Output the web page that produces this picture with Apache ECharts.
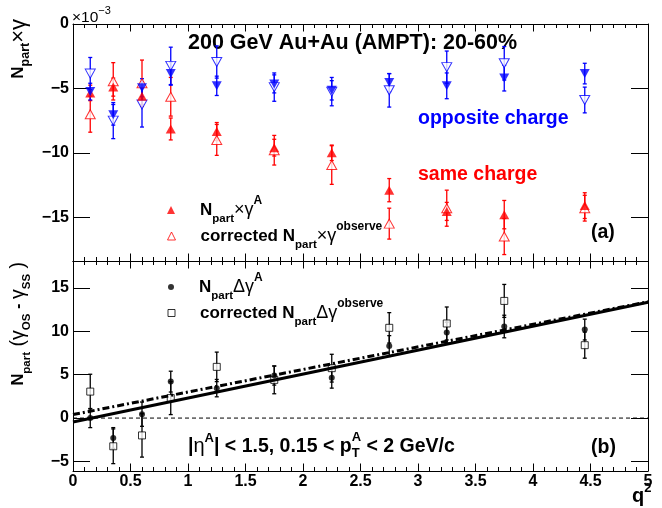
<!DOCTYPE html>
<html>
<head>
<meta charset="utf-8">
<script src="https://cdn.jsdelivr.net/npm/echarts@6/dist/echarts.min.js"></script>
<style>
html, body { margin: 0; padding: 0; background: #fff; }
#chart { width: 662px; height: 508px; }
</style>
</head>
<body>
<div id="chart"></div>
<script>
// q^2 bins, shared by both panels
var q2 = [0.15, 0.35, 0.6, 0.85, 1.25, 1.75, 2.25, 2.75, 3.25, 3.75, 4.45];

// panel (a): Npart x gamma, in units of 1e-3
var ssA      = [-5.35, -4.9, -5.6, -8.15, -8.35, -9.6, -10.0, -12.9, -14.55, -14.8, -14.1];
var ssAErr   = [0.6, 0.7, 0.65, 0.85, 0.7, 0.65, 0.6, 0.9, 0.7, 1.1, 1.0];
var ssObs    = [-7.0, -4.45, -4.6, -5.65, -9.0, -9.8, -10.95, -15.5, -14.3, -16.5, -14.3];
var ssObsErr = [1.4, 1.45, 1.8, 1.5, 1.2, 1.15, 1.5, 1.2, 1.4, 1.4, 1.0];
var osA      = [-5.25, -7.05, -4.95, -3.85, -4.8, -4.65, -5.15, -4.55, -4.8, -4.2, -3.85];
var osAErr   = [0.65, 0.8, 0.7, 0.9, 0.75, 0.7, 0.75, 0.7, 1.0, 1.0, 0.8];
var osObs    = [-3.85, -7.5, -6.25, -3.25, -2.95, -4.9, -5.25, -5.15, -3.35, -3.05, -5.9];
var osObsErr = [1.25, 1.4, 1.75, 1.45, 1.25, 1.1, 1.1, 1.3, 1.25, 1.3, 1.0];

// panel (b): Npart (gamma_OS - gamma_SS)
var dA      = [0.0, -2.3, 0.45, 4.2, 3.45, 4.9, 4.65, 8.3, 9.85, 10.55, 10.2];
var dAErr   = [1.1, 1.2, 1.4, 1.2, 1.0, 1.1, 1.2, 1.2, 1.2, 1.3, 1.2];
var dObs    = [3.05, -3.25, -2.0, 2.3, 5.9, 4.4, 5.75, 10.4, 10.9, 13.5, 8.4];
var dObsErr = [2.0, 2.0, 2.5, 1.9, 1.7, 1.6, 1.6, 1.75, 1.9, 1.9, 1.5];

// linear fits and the zero line
var fitX   = [0, 5];
var fitA   = [-0.45, 13.35];
var fitObs = [0.4, 13.4];
var zeroY  = [0, 0];

var yTicksA = [-15, -10, -5, 0];
var yTicksB = [-5, 0, 5, 10, 15];

var F = 'Liberation Sans';
var RED = '#ff0000', BLUE = '#0000ff';

function tok(size, bold, lh, va) {
  var t = { fontFamily: F, fontSize: size, fontWeight: bold ? 'bold' : 'normal', color: '#000', fill: '#000', lineHeight: lh };
  if (va) t.verticalAlign = va;
  return t;
}
function pairs(xs, ys) { return xs.map(function (x, i) { return [x, ys[i]]; }); }
function bars(vals, errs) { return q2.map(function (x, i) { return [x, vals[i] - errs[i], vals[i] + errs[i]]; }); }
function minus(v) { return v < 0 ? '\u2212' + (-v) : '' + v; }

function errRender(color) {
  return function (params, api) {
    var lo = api.coord([api.value(0), api.value(1)]);
    var hi = api.coord([api.value(0), api.value(2)]);
    var st = { stroke: color, lineWidth: 1.3 };
    return { type: 'group', children: [
      { type: 'line', shape: { x1: lo[0], y1: lo[1], x2: hi[0], y2: hi[1] }, style: st },
      { type: 'line', shape: { x1: lo[0] - 2, y1: lo[1], x2: lo[0] + 2, y2: lo[1] }, style: st },
      { type: 'line', shape: { x1: hi[0] - 2, y1: hi[1], x2: hi[0] + 2, y2: hi[1] }, style: st }
    ]};
  };
}
function errSeries(ax, vals, errs, color) {
  return { type: 'custom', xAxisIndex: ax, yAxisIndex: ax, data: bars(vals, errs),
    renderItem: errRender(color), z: 2, silent: true };
}

function xAx(grid, pos, labels) {
  return {
    type: 'value', gridIndex: grid, position: pos, min: 0, max: 5, interval: 0.5,
    axisLine: { show: true, onZero: false, lineStyle: { color: '#000', width: 1 } },
    axisTick: { show: true, inside: true, length: 7.5, lineStyle: { color: '#000' } },
    minorTick: { show: true, splitNumber: 5, length: 4, lineStyle: { color: '#000' } },
    splitLine: { show: false },
    axisLabel: { show: labels, margin: 3, fontFamily: F, fontSize: 16, fontWeight: 'bold', color: '#000' }
  };
}
function yAx(grid, pos, min, max, ticks, labels) {
  return {
    type: 'value', gridIndex: grid, position: pos, min: min, max: max,
    axisLine: { show: true, onZero: false, lineStyle: { color: '#000', width: 1 } },
    axisTick: { show: true, inside: true, length: 17, customValues: ticks, lineStyle: { color: '#000' } },
    splitLine: { show: false },
    axisLabel: { show: labels, customValues: ticks, margin: 4, formatter: minus,
      fontFamily: F, fontSize: 16, fontWeight: 'bold', color: '#000' }
  };
}

var legRich = {
  g: { width: 20 },
  b: tok(17, true, 30),
  s: tok(18, false, 30),
  sub: tok(11.5, true, 16, 'bottom'),
  sup: tok(12, true, 19, 'top')
};
var legText = {
  ssA: '{g|}{b|N}{sub|part}{s|\u00d7\u03b3}{sup|A}',
  ssObs: '{g|}{b|corrected N}{sub|part}{s|\u00d7\u03b3}{sup|observe}',
  dA: '{g|}{b|N}{sub|part}{s|\u0394\u03b3}{sup|A}',
  dObs: '{g|}{b|corrected N}{sub|part}{s|\u0394\u03b3}{sup|observe}'
};
function leg(name, icon, cx, cy, size, style) {
  return {
    data: [{ name: name, icon: icon }], left: cx - size / 2, top: cy - 15, padding: 0,
    itemWidth: size, itemHeight: size, selectedMode: false, itemStyle: style,
    formatter: function (n) { return legText[n]; },
    textStyle: { rich: legRich }
  };
}

// measure text for the stacked p_T^A label
var ctx = document.createElement('canvas').getContext('2d');
function tw(text, font) { ctx.font = font; return ctx.measureText(text).width; }
var annX = 188;
var w1 = tw('|', 'bold 19.5px "' + F + '"') + tw('\u03b7', '20px "' + F + '"') +
         tw('A', 'bold 13px "' + F + '"') + tw('| < 1.5, 0.15 < p', 'bold 19.5px "' + F + '"');
var wTA = Math.max(tw('T', 'bold 13px "' + F + '"'), tw('A', 'bold 13px "' + F + '"'));

var chart = echarts.init(document.getElementById('chart'), null, { renderer: 'canvas' });
var option = {
  animation: false,
  backgroundColor: '#fff',
  grid: [
    { left: 73, top: 24, right: 14, height: 237, outerBoundsMode: 'none' },
    { left: 73, top: 261, right: 14, height: 210, outerBoundsMode: 'none' }
  ],
  xAxis: [xAx(0, 'bottom', false), xAx(0, 'top', false), xAx(1, 'bottom', true), xAx(1, 'top', false)],
  yAxis: [
    yAx(0, 'left', -18.4, 0, yTicksA, true), yAx(0, 'right', -18.4, 0, yTicksA, false),
    yAx(1, 'left', -6.1, 18.1, yTicksB, true), yAx(1, 'right', -6.1, 18.1, yTicksB, false)
  ],
  legend: [
    leg('ssA', 'triangle', 171, 210, 8, { color: RED, borderWidth: 0 }),
    leg('ssObs', 'triangle', 171, 236, 8, { color: '#fff', borderColor: RED, borderWidth: 1 }),
    leg('dA', 'circle', 171, 287, 6, { color: '#000', borderWidth: 0 }),
    leg('dObs', 'rect', 171, 313, 7, { color: '#fff', borderColor: '#000', borderWidth: 1 })
  ],
  series: [
    errSeries(0, ssObs, ssObsErr, RED),
    errSeries(0, ssA, ssAErr, RED),
    errSeries(0, osObs, osObsErr, BLUE),
    errSeries(0, osA, osAErr, BLUE),
    { name: 'ssObs', type: 'scatter', xAxisIndex: 0, yAxisIndex: 0, data: pairs(q2, ssObs),
      symbol: 'triangle', symbolSize: [10, 9], itemStyle: { color: '#fff', borderColor: RED, borderWidth: 1 }, z: 3 },
    { name: 'osObs', type: 'scatter', xAxisIndex: 0, yAxisIndex: 0, data: pairs(q2, osObs),
      symbol: 'triangle', symbolRotate: 180, symbolSize: [10, 9], itemStyle: { color: '#fff', borderColor: BLUE, borderWidth: 1 }, z: 3 },
    { name: 'ssA', type: 'scatter', xAxisIndex: 0, yAxisIndex: 0, data: pairs(q2, ssA),
      symbol: 'triangle', symbolSize: [10, 9], itemStyle: { color: RED }, z: 4 },
    { name: 'osA', type: 'scatter', xAxisIndex: 0, yAxisIndex: 0, data: pairs(q2, osA),
      symbol: 'triangle', symbolRotate: 180, symbolSize: [10, 9], itemStyle: { color: BLUE }, z: 4 },

    { name: 'zero', type: 'line', xAxisIndex: 2, yAxisIndex: 2, data: pairs(fitX, zeroY), showSymbol: false,
      lineStyle: { color: '#000', width: 1, type: [4, 3] }, z: 1, silent: true },
    errSeries(2, dObs, dObsErr, '#000'),
    errSeries(2, dA, dAErr, '#000'),
    { name: 'dObs', type: 'scatter', xAxisIndex: 2, yAxisIndex: 2, data: pairs(q2, dObs),
      symbol: 'rect', symbolSize: 7, itemStyle: { color: '#fff', borderColor: '#000', borderWidth: 1 }, z: 3 },
    { name: 'dA', type: 'scatter', xAxisIndex: 2, yAxisIndex: 2, data: pairs(q2, dA),
      symbol: 'circle', symbolSize: 6, itemStyle: { color: '#000' }, z: 4 },
    { name: 'fitObs', type: 'line', xAxisIndex: 2, yAxisIndex: 2, data: pairs(fitX, fitObs), showSymbol: false,
      lineStyle: { color: '#000', width: 3, type: [7, 3, 2, 3] }, z: 5, silent: true },
    { name: 'fitA', type: 'line', xAxisIndex: 2, yAxisIndex: 2, data: pairs(fitX, fitA), showSymbol: false,
      lineStyle: { color: '#000', width: 3 }, z: 5, silent: true }
  ],
  graphic: [
    { type: 'text', x: 188, y: 43, style: { text: '200 GeV Au+Au (AMPT): 20-60%',
      font: 'bold 21.5px "' + F + '"', fill: '#000', verticalAlign: 'middle' } },
    { type: 'text', x: 418, y: 119, style: { text: 'opposite charge',
      font: 'bold 19.5px "' + F + '"', fill: BLUE, verticalAlign: 'middle' } },
    { type: 'text', x: 418, y: 175, style: { text: 'same charge',
      font: 'bold 19.5px "' + F + '"', fill: RED, verticalAlign: 'middle' } },
    { type: 'text', x: 591, y: 233, style: { text: '(a)',
      font: 'bold 19.5px "' + F + '"', fill: '#000', verticalAlign: 'middle' } },
    { type: 'text', x: 591, y: 448, style: { text: '(b)',
      font: 'bold 19.5px "' + F + '"', fill: '#000', verticalAlign: 'middle' } },
    // x10^-3
    { type: 'text', x: 72, y: 17.6, style: { text: '{r|\u00d710}{sup|\u22123}', verticalAlign: 'middle',
      rich: { r: tok(15.5, false, 24), sup: tok(11, false, 13, 'top') } } },
    // y titles
    { type: 'text', x: 18.5, y: 19, rotation: Math.PI / 2, style: {
      text: '{b|N}{sub|part}{s|\u00d7\u03b3}', align: 'right', verticalAlign: 'middle',
      rich: { b: tok(17, true, 28), s: tok(22, false, 28), sub: tok(12.5, true, 17, 'bottom') } } },
    { type: 'text', x: 18.5, y: 262, rotation: Math.PI / 2, style: {
      text: '{b|N}{sub|part}{s| (\u03b3}{sub|OS}{b| - }{s|\u03b3}{sub|SS}{s| )}', align: 'right', verticalAlign: 'middle',
      rich: { b: tok(16.5, true, 28), s: tok(19.5, false, 28), sub: tok(11.5, true, 17, 'bottom') } } },
    // x title
    { type: 'text', x: 632, y: 496.5, style: { text: '{b|q}{sup|2}', verticalAlign: 'middle',
      rich: { b: tok(20, true, 30), sup: tok(13, true, 8, 'top') } } },
    // |eta^A| < 1.5, 0.15 < p_T^A < 2 GeV/c
    { type: 'text', x: annX, y: 446.5, style: { text: '{b||}{s|\u03b7}{sup|A}{b|| < 1.5, 0.15 < p}', verticalAlign: 'middle',
      rich: { b: tok(19.5, true, 30), s: tok(20, false, 30), sup: tok(13, true, 20, 'top') } } },
    { type: 'text', x: annX + w1, y: 437.5, style: { text: 'A', font: 'bold 13px "' + F + '"', fill: '#000', verticalAlign: 'middle' } },
    { type: 'text', x: annX + w1, y: 453.5, style: { text: 'T', font: 'bold 13px "' + F + '"', fill: '#000', verticalAlign: 'middle' } },
    { type: 'text', x: annX + w1 + wTA, y: 446.5, style: { text: ' < 2 GeV/c',
      font: 'bold 19.5px "' + F + '"', fill: '#000', verticalAlign: 'middle' } }
  ]
};
chart.setOption(option);
</script>
</body>
</html>
